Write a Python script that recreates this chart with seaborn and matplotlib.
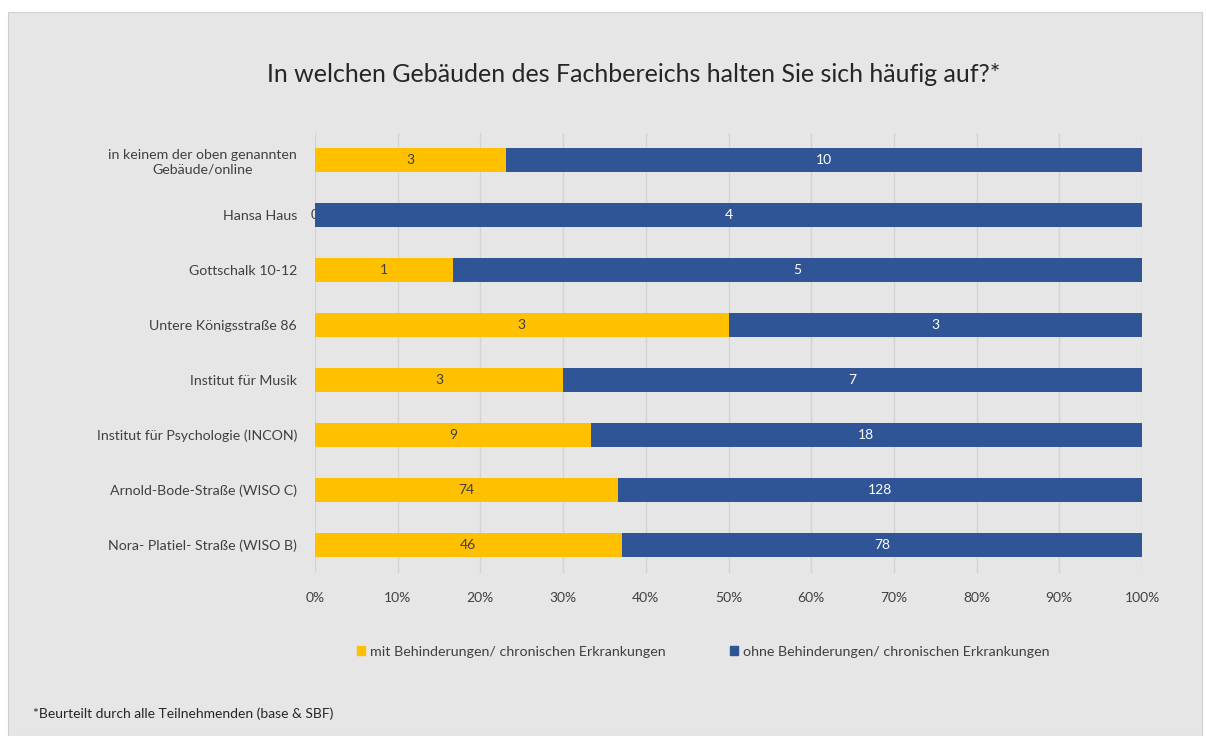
import pandas as pd
import matplotlib.pyplot as plt
import matplotlib.patches as mpatches
import seaborn as sns

# Gebäude (von oben nach unten wie im Diagramm)
gebaeude = [
    "in keinem der oben genannten\nGebäude/online",
    "Hansa Haus",
    "Gottschalk 10-12",
    "Untere Königsstraße 86",
    "Institut für Musik",
    "Institut für Psychologie (INCON)",
    "Arnold-Bode-Straße (WISO C)",
    "Nora- Platiel- Straße (WISO B)",
]
mit_beh = [3, 0, 1, 3, 3, 9, 74, 46]
ohne_beh = [10, 4, 5, 3, 7, 18, 128, 78]
x_ticks = [0, 10, 20, 30, 40, 50, 60, 70, 80, 90, 100]

serie_mit = "mit Behinderungen/ chronischen Erkrankungen"
serie_ohne = "ohne Behinderungen/ chronischen Erkrankungen"
titel = "In welchen Gebäuden des Fachbereichs halten Sie sich häufig auf?*"
fussnote = "*Beurteilt durch alle Teilnehmenden (base & SBF)"

gelb = "#FFC000"
blau = "#2F5597"
bg = "#E7E6E6"

df = pd.DataFrame({"Gebäude": gebaeude, "mit": mit_beh, "ohne": ohne_beh})
df["total"] = df["mit"] + df["ohne"]
df["mit_pct"] = df["mit"] / df["total"] * 100
df["all_pct"] = 100.0

sns.set_theme(style="white")
plt.rcParams["font.family"] = ["Lato", "DejaVu Sans"]

fig = plt.figure(figsize=(12.06, 7.36), dpi=100)
fig.patch.set_facecolor("white")
fig.patches.append(mpatches.Rectangle((8 / 1206, 0), 1194 / 1206, 724 / 736,
                                      transform=fig.transFigure, facecolor=bg,
                                      edgecolor="#D0D0D0", lw=0.8, zorder=-10))

ax = fig.add_axes([315 / 1206, 1 - 572.5 / 736, 827 / 1206, 440 / 736])
ax.set_facecolor(bg)

# gestapelt: erst 100% blau, dann gelben Anteil darüber
sns.barplot(data=df, y="Gebäude", x="all_pct", color=blau, width=0.43,
            saturation=1, orient="h", ax=ax, zorder=3, linewidth=0)
sns.barplot(data=df, y="Gebäude", x="mit_pct", color=gelb, width=0.43,
            saturation=1, orient="h", ax=ax, zorder=4, linewidth=0)

for i, row in df.iterrows():
    ax.text(row["mit_pct"] / 2, i, str(row["mit"]), ha="center", va="center",
            fontsize=10, color="#404040", zorder=2 if row["mit"] == 0 else 5)
    ax.text(row["mit_pct"] + (100 - row["mit_pct"]) / 2, i, str(row["ohne"]),
            ha="center", va="center", fontsize=10, color="white", zorder=5)

ax.set_xlim(0, 100)
ax.set_xticks(x_ticks)
ax.set_xticklabels([f"{t}%" for t in x_ticks], fontsize=10, color="#404040")
ax.tick_params(axis="x", length=0, pad=14)
ax.tick_params(axis="y", length=0, pad=13, labelsize=10.2, labelcolor="#404040")
for lbl in ax.get_yticklabels():
    lbl.set_multialignment("center")
ax.set_xlabel("")
ax.set_ylabel("")
ax.grid(axis="x", color="#D4D4D4", lw=1, zorder=0)
ax.set_axisbelow(True)
for s in ax.spines.values():
    s.set_visible(False)

fig.text(634 / 1206, 1 - 75 / 736, titel, ha="center", va="center", fontsize=18,
         color="#262626")

handles = [mpatches.Patch(color=gelb, label=serie_mit),
           mpatches.Patch(color=blau, label=serie_ohne)]
fig.legend(handles=handles, loc="center", bbox_to_anchor=(703 / 1206, 1 - 652 / 736),
           ncol=2, frameon=False, fontsize=10.3, handlelength=0.6, handleheight=0.6,
           handletextpad=0.3, columnspacing=4.5, labelcolor="#404040")

fig.text(33 / 1206, 1 - 714 / 736, fussnote, ha="left", va="center",
         fontsize=10, color="#262626")

fig.savefig("out.png", dpi=100, facecolor=fig.get_facecolor())
